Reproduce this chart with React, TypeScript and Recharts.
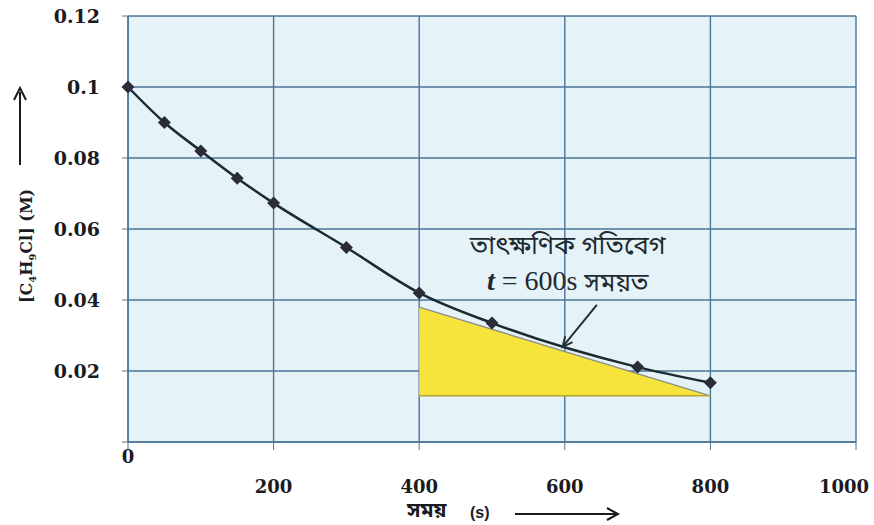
import {
  ComposedChart,
  Line,
  Area,
  XAxis,
  YAxis,
  CartesianGrid,
  ReferenceLine,
  ReferenceDot,
} from 'recharts'

const times = [0, 50, 100, 150, 200, 300, 400, 500, 700, 800]
const conc = [0.1, 0.09, 0.082, 0.0743, 0.0673, 0.0548, 0.042, 0.0335, 0.0211, 0.0167]

const tangentTimes = [400, 800]
const tangentConc = [0.038, 0.013]
const tangentBase = 0.013

const xTicks = [0, 200, 400, 600, 800, 1000]
const yTicks = [0, 0.02, 0.04, 0.06, 0.08, 0.1, 0.12]

const curveData = times.map((t, i) => ({ t, c: conc[i] }))
const tangentData = tangentTimes.map((t, i) => ({ t, tan: tangentConc[i] }))

const SERIF = "'DejaVu Serif', 'Liberation Serif', serif"
const TIMES = "'Liberation Serif', serif"
const BENGALI = "'Noto Sans Bengali', 'Noto Serif Bengali', 'Lohit Bengali', 'FreeSerif', 'Noto Sans', sans-serif"
const GRID = '#4d7597'
const INK = '#1b1b1f'

const Diamond = (props: any) => {
  const { cx, cy } = props
  if (cx == null || cy == null) return null
  const s = 6.5
  return (
    <path
      d={`M${cx},${cy - s} L${cx + s},${cy} L${cx},${cy + s} L${cx - s},${cy} Z`}
      fill="#2c2b3a"
    />
  )
}

const XTick = (props: any) => {
  const { x, y, payload } = props
  const dy = payload.value === 0 ? 11 : 41
  // last label sits a little inside the edge, as in the original
  const dx = payload.value === 1000 ? -12 : 0
  return (
    <text x={x + dx} y={y + dy} textAnchor="middle" fontFamily={SERIF} fontSize={18} fontWeight="bold" fill={INK}>
      {payload.value}
    </text>
  )
}

const YTick = (props: any) => {
  const { x, y, payload } = props
  if (payload.value === 0) return null
  return (
    <text x={x} y={y} dy={7} textAnchor="end" fontFamily={SERIF} fontSize={19} fontWeight="bold" fill={INK}>
      {String(Number(payload.value.toFixed(2)))}
    </text>
  )
}

const YTitle = () => (
  <g>
    <text
      transform="translate(32, 303) rotate(-90)"
      fontFamily={SERIF}
      fontSize={16}
      fontWeight="bold"
      fill={INK}
    >
      [C<tspan fontSize={10} dy={4}>4</tspan>
      <tspan dy={-4}>H</tspan>
      <tspan fontSize={10} dy={4}>9</tspan>
      <tspan dy={-4}>Cl] (M)</tspan>
    </text>
    <line x1={20} y1={165} x2={20} y2={92} stroke={INK} strokeWidth={2} />
    <path d="M14,100 L20,88 L26,100" fill="none" stroke={INK} strokeWidth={2} />
  </g>
)

const XTitle = () => (
  <g>
    <text x={407} y={517} fontFamily={BENGALI} fontSize={21} fontWeight="bold" fill={INK}>
      সময়
    </text>
    <text x={470} y={518} fontFamily="'Liberation Sans', sans-serif" fontSize={16} fontWeight="bold" fill={INK}>
      (s)
    </text>
    <line x1={515} y1={514} x2={616} y2={514} stroke={INK} strokeWidth={2} />
    <path d="M607,508 L618,514 L607,520" fill="none" stroke={INK} strokeWidth={2} />
  </g>
)

const ArrowShape = (props: any) => {
  const { x1, y1, x2, y2 } = props
  if (x1 == null) return null
  const ang = Math.atan2(y2 - y1, x2 - x1)
  const h = 11
  const a1 = ang + Math.PI - 0.45
  const a2 = ang + Math.PI + 0.45
  return (
    <g>
      <line x1={x1} y1={y1} x2={x2} y2={y2} stroke="#243038" strokeWidth={2} />
      <path
        d={`M${x2 + h * Math.cos(a1)},${y2 + h * Math.sin(a1)} L${x2},${y2} L${x2 + h * Math.cos(a2)},${y2 + h * Math.sin(a2)}`}
        fill="none"
        stroke="#243038"
        strokeWidth={2}
      />
    </g>
  )
}

const NoteLine1 = (props: any) => (
  <text x={props.cx} y={props.cy} textAnchor="middle" dominantBaseline="middle" fontFamily={BENGALI} fontSize={26} fill="#1f2a30">
    তাৎক্ষণিক গতিবেগ
  </text>
)

const NoteLine2 = (props: any) => (
  <text x={props.cx} y={props.cy} textAnchor="middle" dominantBaseline="middle" fill="#1f2a30">
    <tspan fontFamily={TIMES} fontStyle="italic" fontWeight="bold" fontSize={28}>t</tspan>
    <tspan fontFamily={TIMES} fontSize={28}> =  600s </tspan>
    <tspan fontFamily={BENGALI} fontSize={25}>সময়ত</tspan>
  </text>
)

export default function App() {
  return (
    <div style={{ position: 'absolute', left: 0, top: 0, background: '#fff' }}>
      <ComposedChart width={874} height={525} margin={{ top: 16, right: 18, left: 0, bottom: 0 }}>
        <CartesianGrid stroke={GRID} strokeWidth={1.4} fill="#e5f3f8" />
        <XAxis
          type="number"
          dataKey="t"
          domain={[0, 1000]}
          ticks={xTicks}
          height={83}
          tick={<XTick />}
          tickSize={8}
          tickLine={{ stroke: GRID }}
          axisLine={{ stroke: GRID, strokeWidth: 1.4 }}
          allowDuplicatedCategory={false}
        />
        <YAxis
          type="number"
          domain={[0, 0.12]}
          ticks={yTicks}
          width={128}
          tick={<YTick />}
          tickSize={6}
          tickMargin={22}
          tickLine={{ stroke: GRID }}
          axisLine={{ stroke: GRID, strokeWidth: 1.4 }}
        />
        <Area
          data={tangentData}
          dataKey="tan"
          type="linear"
          baseValue={tangentBase}
          fill="#f6e43a"
          fillOpacity={1}
          stroke="#8f8f8a"
          strokeWidth={1.5}
          isAnimationActive={false}
        />
        <ReferenceLine
          segment={[{ x: tangentTimes[0], y: tangentBase }, { x: tangentTimes[1], y: tangentBase }]}
          stroke="#b5a52a"
          strokeWidth={1.5}
        />
        <Line
          data={curveData}
          dataKey="c"
          type="monotone"
          stroke="#1d2a33"
          strokeWidth={2.5}
          dot={<Diamond />}
          activeDot={false}
          isAnimationActive={false}
        />
        <ReferenceLine
          segment={[{ x: 644, y: 0.0386 }, { x: 597, y: 0.0268 }]}
          shape={<ArrowShape />}
        />
        <ReferenceDot x={604} y={0.055} r={0} shape={<NoteLine1 />} />
        <ReferenceDot x={604} y={0.0445} r={0} shape={<NoteLine2 />} />
        <YTitle />
        <XTitle />
      </ComposedChart>
    </div>
  )
}
